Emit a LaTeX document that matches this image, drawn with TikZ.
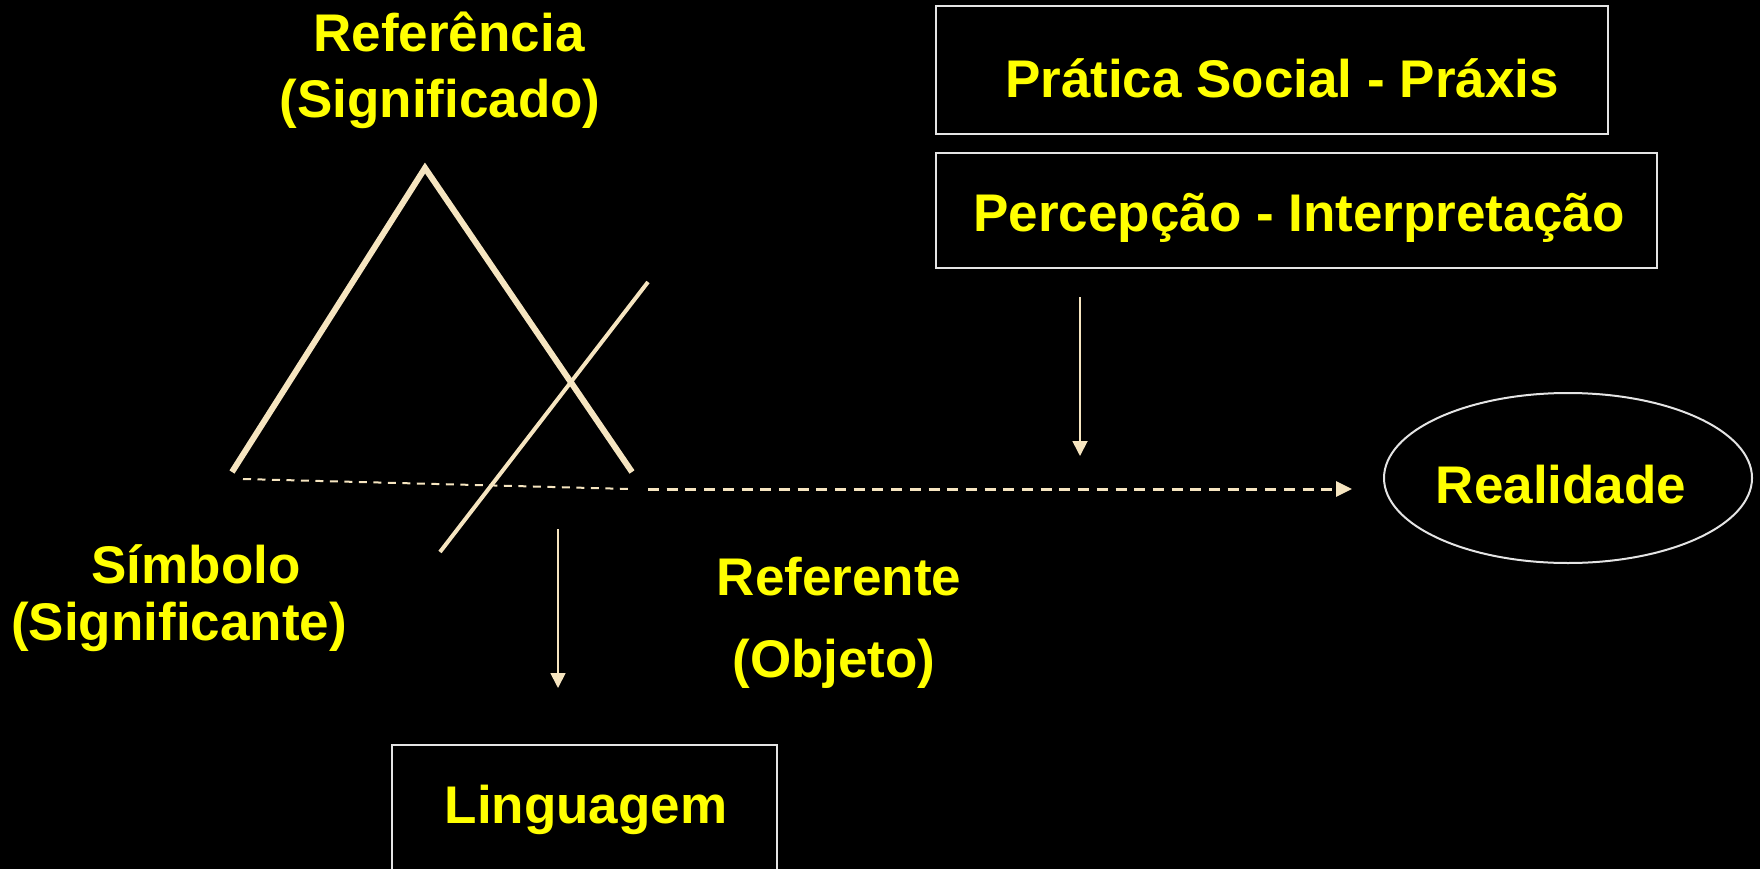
\documentclass[tikz,border=0pt]{standalone}
\usepackage{fontspec}
\setmainfont{Liberation Sans}
\usetikzlibrary{arrows.meta,shapes.geometric}
\definecolor{txtyellow}{HTML}{FFFF00}
\definecolor{cream}{HTML}{F6E5C0}
\definecolor{edgegray}{HTML}{E4E4E4}
\begin{document}
\begin{tikzpicture}[x=1pt,y=-1pt,
  lbl/.style={text=txtyellow, font=\fontsize{53}{66}\selectfont\bfseries, inner sep=0pt, anchor=base},
  boxframe/.style={draw=edgegray, line width=2pt, rectangle, inner sep=0pt},
  tri/.style={draw=cream, line width=6pt, line cap=butt, line join=miter},
  crossline/.style={draw=cream, line width=4pt},
  dashthin/.style={draw=cream, line width=2pt, dash pattern=on 8pt off 6.5pt},
  dashthick/.style={draw=cream, line width=3pt, dash pattern=on 11pt off 7.7pt},
  thinarrow/.style={draw=cream, line width=1.8pt, -{Triangle[length=15pt,width=15pt]}},
]
\fill[black] (0,0) rectangle (1760,869);
\useasboundingbox (0,0) rectangle (1760,869);
\clip (0,0) rectangle (1760,869);

% boxes
\node[boxframe, minimum width=672pt, minimum height=128pt] (pratica) at (1272,70) {};
\node[boxframe, minimum width=721pt, minimum height=115pt] (percepcao) at (1296.5,210.5) {};
\node[boxframe, minimum width=385pt, minimum height=160pt] (linguagem) at (584.5,825) {};
\node[draw=edgegray, line width=2pt, ellipse, inner sep=0pt, minimum width=368pt, minimum height=170pt] (realidade) at (1568,478) {};

% texts
\node[lbl] (tpratica) at (1282,98) {Prática Social - Práxis};
\node[lbl] (tpercepcao) at (1299,231) {Percepção - Interpretação};
\node[lbl] (tlinguagem) at (586,823) {Linguagem};
\node[lbl] (trealidade) at (1561,503) {Realidade};
\node[lbl] (ref1) at (449,52) {Referência};
\node[lbl] (ref2) at (440,118) {(Significado)};
\node[lbl] (sim1) at (196,583) {Símbolo};
\node[lbl] (sim2) at (179,640) {(Significante)};
\node[lbl] (obj1) at (839,595) {Referente};
\node[lbl] (obj2) at (834,677) {(Objeto)};

% triangle
\coordinate (symfoot) at (232,472);
\coordinate (apex) at (425,168);
\coordinate (objfoot) at (632,472);
\draw[tri] (symfoot) -- (apex) -- (objfoot);

% crossing line
\coordinate (ctop) at (648,282);
\coordinate (cbot) at (440,552);
\draw[crossline] (ctop) -- (cbot);

% dashed lines
\coordinate (da) at (243,479);
\coordinate (db) at (630,489);
\coordinate (dc) at (648,489);
\coordinate (dd) at (1352,489);
\draw[dashthin] (da) -- (db);
\draw[dashthick, -{Triangle[length=16pt,width=15pt]}] (dc) -- (dd);

% vertical arrows
\coordinate (va) at (1080,297);
\coordinate (vb) at (1080,456);
\draw[thinarrow] (va) -- (vb);
\coordinate (la) at (558,529);
\coordinate (lb) at (558,688);
\draw[thinarrow] (la) -- (lb);
\end{tikzpicture}
\end{document}
